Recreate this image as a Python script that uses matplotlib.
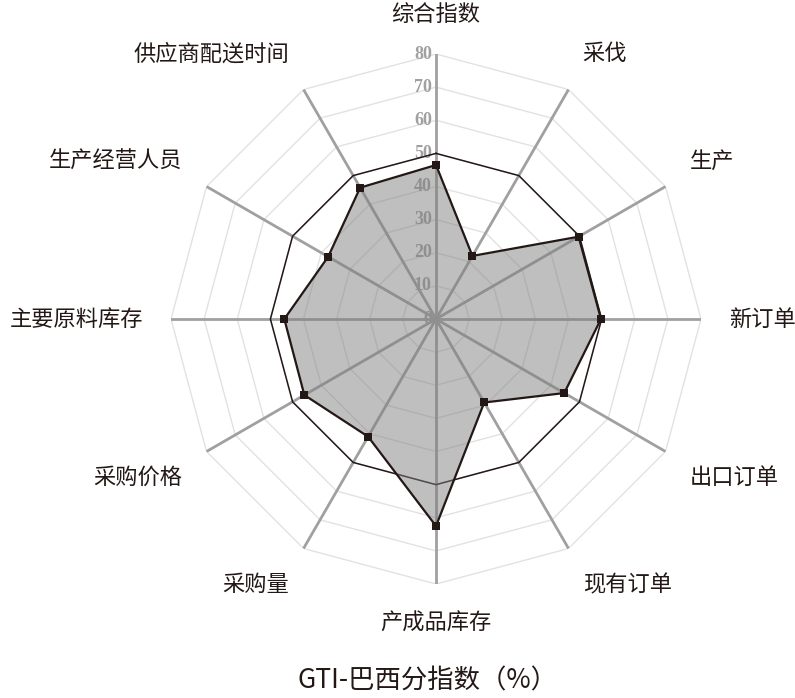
import matplotlib.pyplot as plt
import numpy as np

plt.rcParams['font.family'] = ['Noto Sans CJK SC', 'DejaVu Sans']

labels = ['综合指数', '采伐', '生产', '新订单', '出口订单', '现有订单',
          '产成品库存', '采购量', '采购价格', '主要原料库存', '生产经营人员', '供应商配送时间']
values = [46.5, 22.0, 49.7, 49.8, 44.7, 29.1, 62.5, 41.0, 45.9, 45.8, 37.6, 45.8]
rings = [10, 20, 30, 40, 50, 60, 70, 80]
threshold = 50

n = len(labels)
theta = np.arange(n) * 2 * np.pi / n
theta_c = np.append(theta, theta[0])

fig = plt.figure(figsize=(7.95, 6.98), dpi=100)
ax = fig.add_axes([0.2151, 0.1633, 0.6667, 0.7593], projection='polar')
ax.set_theta_zero_location('N')
ax.set_theta_direction(-1)
ax.set_ylim(0, 80)
ax.grid(False)
ax.spines['polar'].set_visible(False)
ax.set_xticks([])
ax.set_yticks([])

# light polygon grid
for r in rings:
    ax.plot(theta_c, [r] * (n + 1), color='#e2e2e2', lw=1, zorder=1)

# spokes
for t in theta:
    ax.plot([t, t], [0, 80], color='#a0a0a0', lw=2, zorder=2)

# radial tick labels
for r in [0] + rings:
    ax.annotate(str(r), xy=(0, r), xytext=(-3, 0), textcoords='offset points',
                ha='right', va='center', fontsize=13, color='#a0a0a0',
                family='Liberation Serif', weight='bold', zorder=3)

# 50 reference polygon
ax.plot(theta_c, [threshold] * (n + 1), color='#231815', lw=1.1, zorder=4)

# data
vals_c = np.append(values, values[0])
ax.fill(theta_c, vals_c, color='#808080', alpha=0.5, lw=0, zorder=5)
ax.plot(theta_c, vals_c, color='#231815', lw=1.6, zorder=6)
ax.plot(theta, values, 's', color='#231815', ms=6, mew=0, zorder=7)

# category labels
for t, lab in zip(theta, labels):
    s, c = np.sin(t), np.cos(t)
    if abs(s) < 1e-6:
        ha = 'center'
    elif s > 0:
        ha = 'left'
    else:
        ha = 'right'
    if abs(c) < 1e-6:
        va = 'center'
    elif c > 0:
        va = 'bottom'
    else:
        va = 'top'
    ax.text(t, 88.5, lab, ha=ha, va=va, fontsize=16,
            color='#231815', clip_on=False)

fig.text(0.538, 0.024, 'GTI-巴西分指数（%）', ha='center', va='center',
         fontsize=19, color='#231815')

fig.savefig('out.png', dpi=100)
